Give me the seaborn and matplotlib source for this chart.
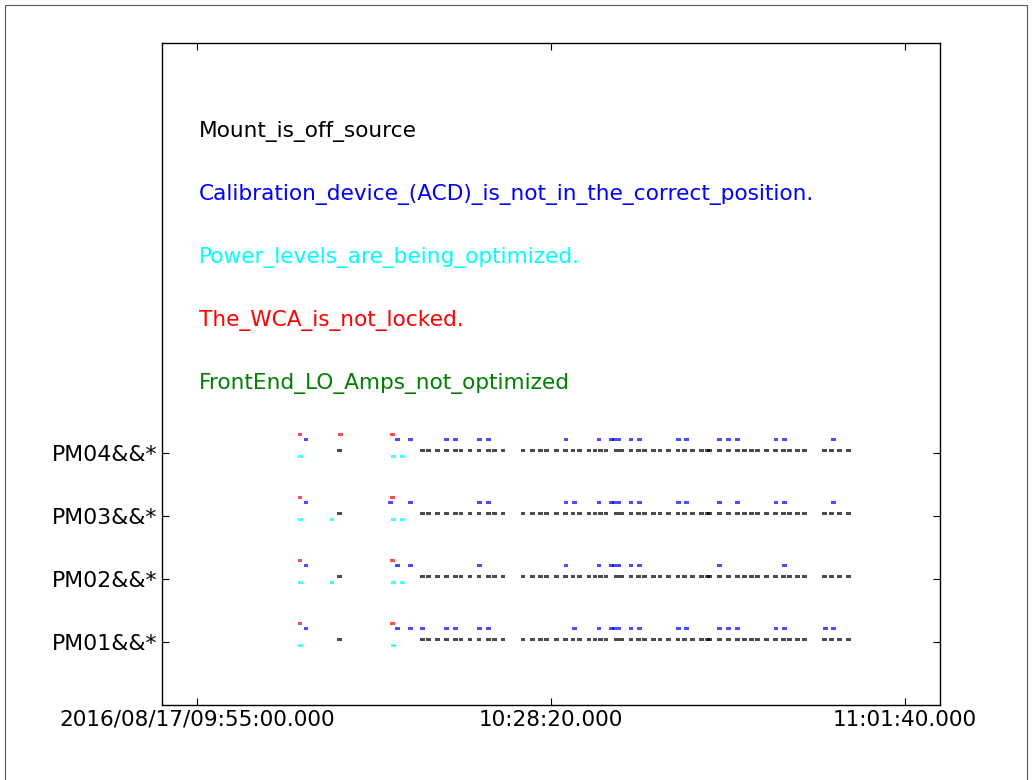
import numpy as np
import pandas as pd
import matplotlib
matplotlib.use("Agg")
import matplotlib.pyplot as plt
from matplotlib.patches import Rectangle
import seaborn as sns

# ---------------- data ----------------
antennas = ["PM01&&*", "PM02&&*", "PM03&&*", "PM04&&*"]
messages = ["Mount_is_off_source",
            "Calibration_device_(ACD)_is_not_in_the_correct_position.",
            "Power_levels_are_being_optimized.",
            "The_WCA_is_not_locked.",
            "FrontEnd_LO_Amps_not_optimized"]
message_colors = ["black", "blue", "cyan", "red", "green"]
message_offsets = [0.04, 0.21, -0.06, 0.29, 0.0]
text_rows = [9.1, 8.1, 7.1, 6.1, 5.1]

mount_times = ["10:08:22", "10:16:11", "10:16:45", "10:17:36", "10:18:30", "10:19:18",
               "10:19:51", "10:20:42", "10:21:33", "10:22:26", "10:23:00", "10:23:49",
               "10:25:42", "10:26:35", "10:27:21", "10:27:56", "10:28:52", "10:29:43",
               "10:30:24", "10:31:01", "10:31:55", "10:32:29", "10:33:00", "10:33:31",
               "10:34:31", "10:35:01", "10:35:52", "10:36:37", "10:37:11", "10:37:58",
               "10:38:36", "10:39:23", "10:40:18", "10:40:57", "10:41:39", "10:42:31",
               "10:43:07", "10:43:18", "10:44:15", "10:45:06", "10:45:54", "10:46:33",
               "10:47:16", "10:47:50", "10:48:39", "10:49:31", "10:50:16", "10:50:50",
               "10:51:35", "10:52:12", "10:54:08", "10:54:48", "10:55:30", "10:56:21"]

calib_pm01 = ["10:05:14", "10:13:52", "10:15:05", "10:16:15", "10:18:31", "10:19:19",
              "10:21:37", "10:22:26", "10:30:34", "10:32:51", "10:34:02", "10:34:16",
              "10:34:44", "10:35:52", "10:36:39", "10:40:19", "10:41:08", "10:44:15",
              "10:45:03", "10:45:53", "10:49:33", "10:50:22", "10:54:12", "10:54:59"]
calib_pm02 = ["10:05:14", "10:13:52", "10:15:05", "10:21:37", "10:29:45", "10:32:51",
              "10:34:02", "10:34:16", "10:34:44", "10:35:52", "10:36:39", "10:44:15",
              "10:50:22"]
calib_pm03 = ["10:05:14", "10:13:12", "10:15:05", "10:21:37", "10:22:26", "10:29:45",
              "10:30:34", "10:32:51", "10:34:02", "10:34:16", "10:34:44", "10:35:52",
              "10:36:39", "10:40:19", "10:41:08", "10:44:15", "10:45:53", "10:49:33",
              "10:50:22", "10:54:59"]
calib_pm04 = ["10:05:14", "10:13:52", "10:15:05", "10:18:31", "10:19:19", "10:21:37",
              "10:22:26", "10:29:45", "10:32:51", "10:34:02", "10:34:16", "10:34:44",
              "10:35:52", "10:36:39", "10:40:19", "10:41:08", "10:44:15", "10:45:03",
              "10:45:53", "10:49:33", "10:50:22", "10:54:59"]

power_pm01 = ["10:04:44", "10:13:27"]
power_pm02 = ["10:04:44", "10:07:41", "10:13:27", "10:14:20"]
power_pm03 = ["10:04:44", "10:07:41", "10:13:27", "10:14:20"]
power_pm04 = ["10:04:44", "10:13:27", "10:14:20"]

wca_pm01 = ["10:04:40", "10:13:23"]
wca_pm02 = ["10:04:40", "10:13:23"]
wca_pm03 = ["10:04:40", "10:13:23"]
wca_pm04 = ["10:04:40", "10:08:30", "10:13:23"]

lo_amps = [[], [], [], []]

xtick_times = ["09:55:00", "10:28:20", "11:01:40"]
xtick_labels = ["2016/08/17/09:55:00.000", "10:28:20.000", "11:01:40.000"]
xlim_times = ["09:51:40", "11:05:00"]
text_x_time = "09:55:10"

# ---------------- build table ----------------
def secs(t):
    h, m, s = (int(v) for v in t.split(":"))
    return h * 3600 + m * 60 + s

per_message = [
    [mount_times] * 4,
    [calib_pm01, calib_pm02, calib_pm03, calib_pm04],
    [power_pm01, power_pm02, power_pm03, power_pm04],
    [wca_pm01, wca_pm02, wca_pm03, wca_pm04],
    lo_amps,
]
rows = []
for mi, lists in enumerate(per_message):
    for ai, times in enumerate(lists):
        for t in times:
            rows.append({"time": secs(t), "row": ai + 1 + message_offsets[mi],
                         "message": messages[mi]})
df = pd.DataFrame(rows)

# ---------------- plot ----------------
sns.set_style("white")
plt.rcParams["font.family"] = ["DejaVu Sans"]
plt.rcParams["text.color"] = "black"
plt.rcParams["xtick.color"] = "black"
plt.rcParams["ytick.color"] = "black"

fig = plt.figure(figsize=(10.33, 7.80), dpi=100)
ax = fig.add_axes([162 / 1033, 1 - 705 / 780, (940 - 162) / 1033, (705 - 43) / 780])

rect_marker = [(-0.5, -0.35), (0.5, -0.35), (0.5, 0.35), (-0.5, 0.35), (-0.5, -0.35)]
palette = dict(zip(messages, message_colors))
sns.scatterplot(data=df, x="time", y="row", hue="message", palette=palette,
                hue_order=[m for m in messages if m in set(df["message"])],
                marker=rect_marker, s=12, linewidth=0, alpha=0.7,
                legend=False, ax=ax)

for msg, col, yv in zip(messages, message_colors, text_rows):
    ax.text(secs(text_x_time), yv, msg, color=col, fontsize=15.6,
            ha="left", va="center")

ax.set_xlim(secs(xlim_times[0]), secs(xlim_times[1]))
ax.set_ylim(0, 10.5)
ax.set_xticks([secs(t) for t in xtick_times])
ax.set_xticklabels(xtick_labels, fontsize=15.5, color="black")
ax.set_yticks(range(1, len(antennas) + 1))
ax.set_yticklabels(antennas, fontsize=15.8, color="black")
ax.set_xlabel("")
ax.set_ylabel("")
ax.tick_params(direction="in", length=5, width=0.8, top=True, right=True,
               bottom=True, left=True, color="black", labelcolor="black", pad=3.5)
for sp in ax.spines.values():
    sp.set_visible(True)
    sp.set_color("black")
    sp.set_linewidth(1.0)

fig.patches.append(Rectangle((5 / 1033, -0.01), 1022 / 1033, 1 - 5 / 780 + 0.01,
                             transform=fig.transFigure, fill=False,
                             edgecolor="#555555", linewidth=0.8))

fig.savefig("out.png", dpi=100)
